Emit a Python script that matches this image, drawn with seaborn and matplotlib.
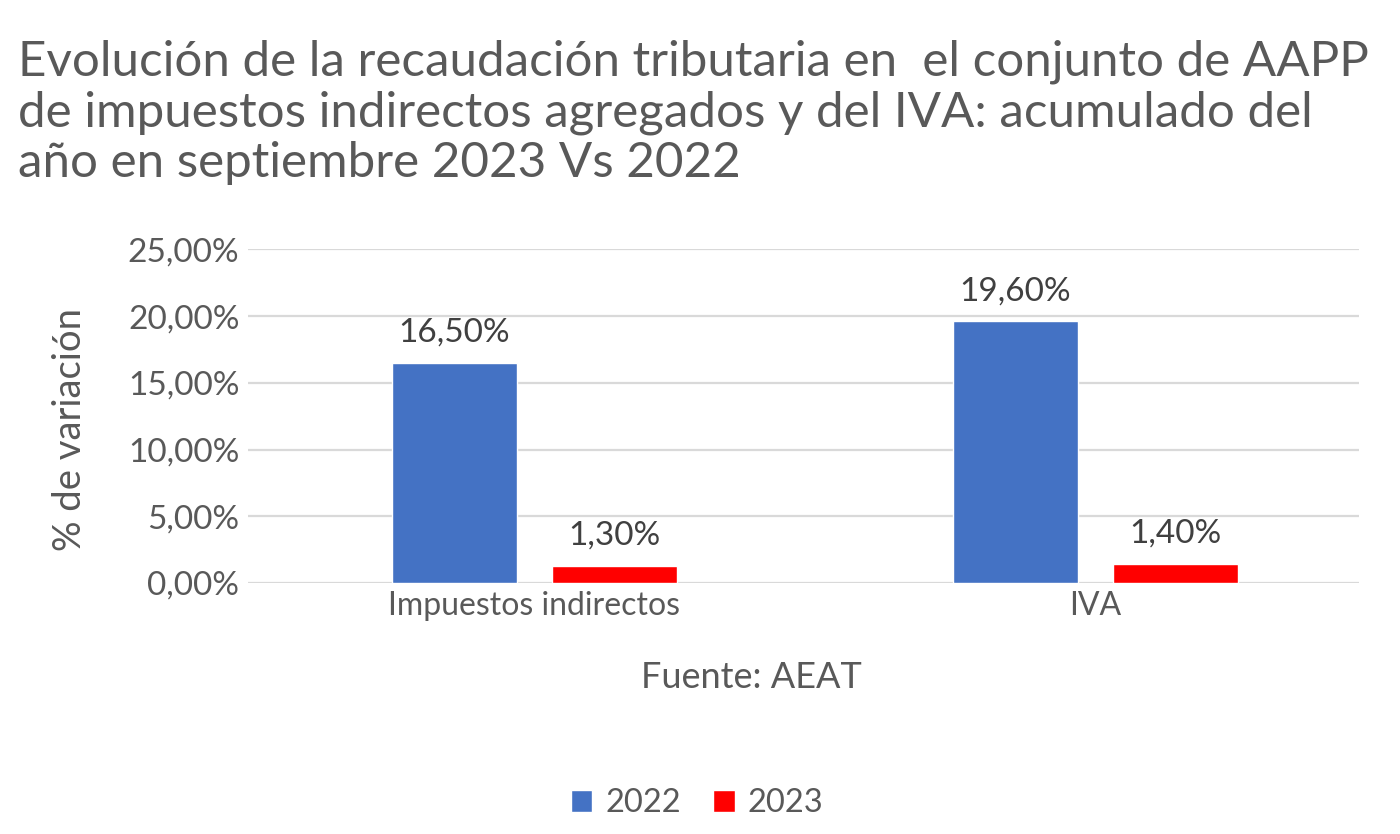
import matplotlib
matplotlib.use("Agg")
import matplotlib.pyplot as plt
import seaborn as sns
import pandas as pd

# Datos
categorias = ["Impuestos indirectos", "IVA"]
anios = ["2022", "2023"]
var_2022 = [16.5, 19.6]
var_2023 = [1.3, 1.4]
yticks = [0, 5, 10, 15, 20, 25]

df = pd.DataFrame({
    "categoria": categorias * 2,
    "anio": [anios[0]] * 2 + [anios[1]] * 2,
    "valor": var_2022 + var_2023,
})

gris = "#595959"
sns.set_style("white")
plt.rcParams["font.family"] = ["Lato", "DejaVu Sans"]

fig = plt.figure(figsize=(14, 8.34), dpi=100)
ax = fig.add_axes([0.177, 0.301, 0.794, 0.4])

sns.barplot(data=df, x="categoria", y="valor", hue="anio",
            palette={"2022": "#4472C4", "2023": "#FF0000"}, saturation=1,
            width=0.57, gap=0.22, ax=ax, legend=True)

fmt = lambda v: f"{v:.2f}%".replace(".", ",")
for cont in ax.containers:
    ax.bar_label(cont, labels=[fmt(v) for v in cont.datavalues],
                 padding=11, fontsize=24, color="#404040")

ax.set_ylim(0, 25)
ax.set_xlim(-0.51, 1.47)
ax.set_yticks(yticks)
ax.set_yticklabels([fmt(v) for v in yticks], fontsize=24, color=gris)
ax.tick_params(axis="x", labelsize=23, labelcolor=gris, length=0, pad=6)
ax.tick_params(axis="y", length=0, pad=6)
ax.yaxis.grid(True, color="#D9D9D9", linewidth=1.6)
ax.set_axisbelow(True)
for s in ax.spines.values():
    s.set_visible(False)

ax.set_ylabel("% de variación", fontsize=27.5, color=gris, va="center")
ax.yaxis.set_label_coords(-0.16, 0.46)
ax.set_xlabel("Fuente: AEAT", fontsize=26, color=gris, va="center")
ax.xaxis.set_label_coords(0.453, -0.283)

h, l = ax.get_legend_handles_labels()
ax.legend_.remove()
fig.legend(h, l, loc="center", bbox_to_anchor=(0.498, 0.037), ncol=2,
           frameon=False, fontsize=23.5, labelcolor=gris,
           handlelength=0.65, handleheight=0.65, handletextpad=0.4,
           columnspacing=1.0)

fig.text(0.013, 0.953,
         "Evolución de la recaudación tributaria en  el conjunto de AAPP\n"
         "de impuestos indirectos agregados y del IVA: acumulado del\n"
         "año en septiembre 2023 Vs 2022",
         ha="left", va="top", fontsize=35.5, color=gris, linespacing=1.18)

fig.savefig("out.png", dpi=100, facecolor="white")
